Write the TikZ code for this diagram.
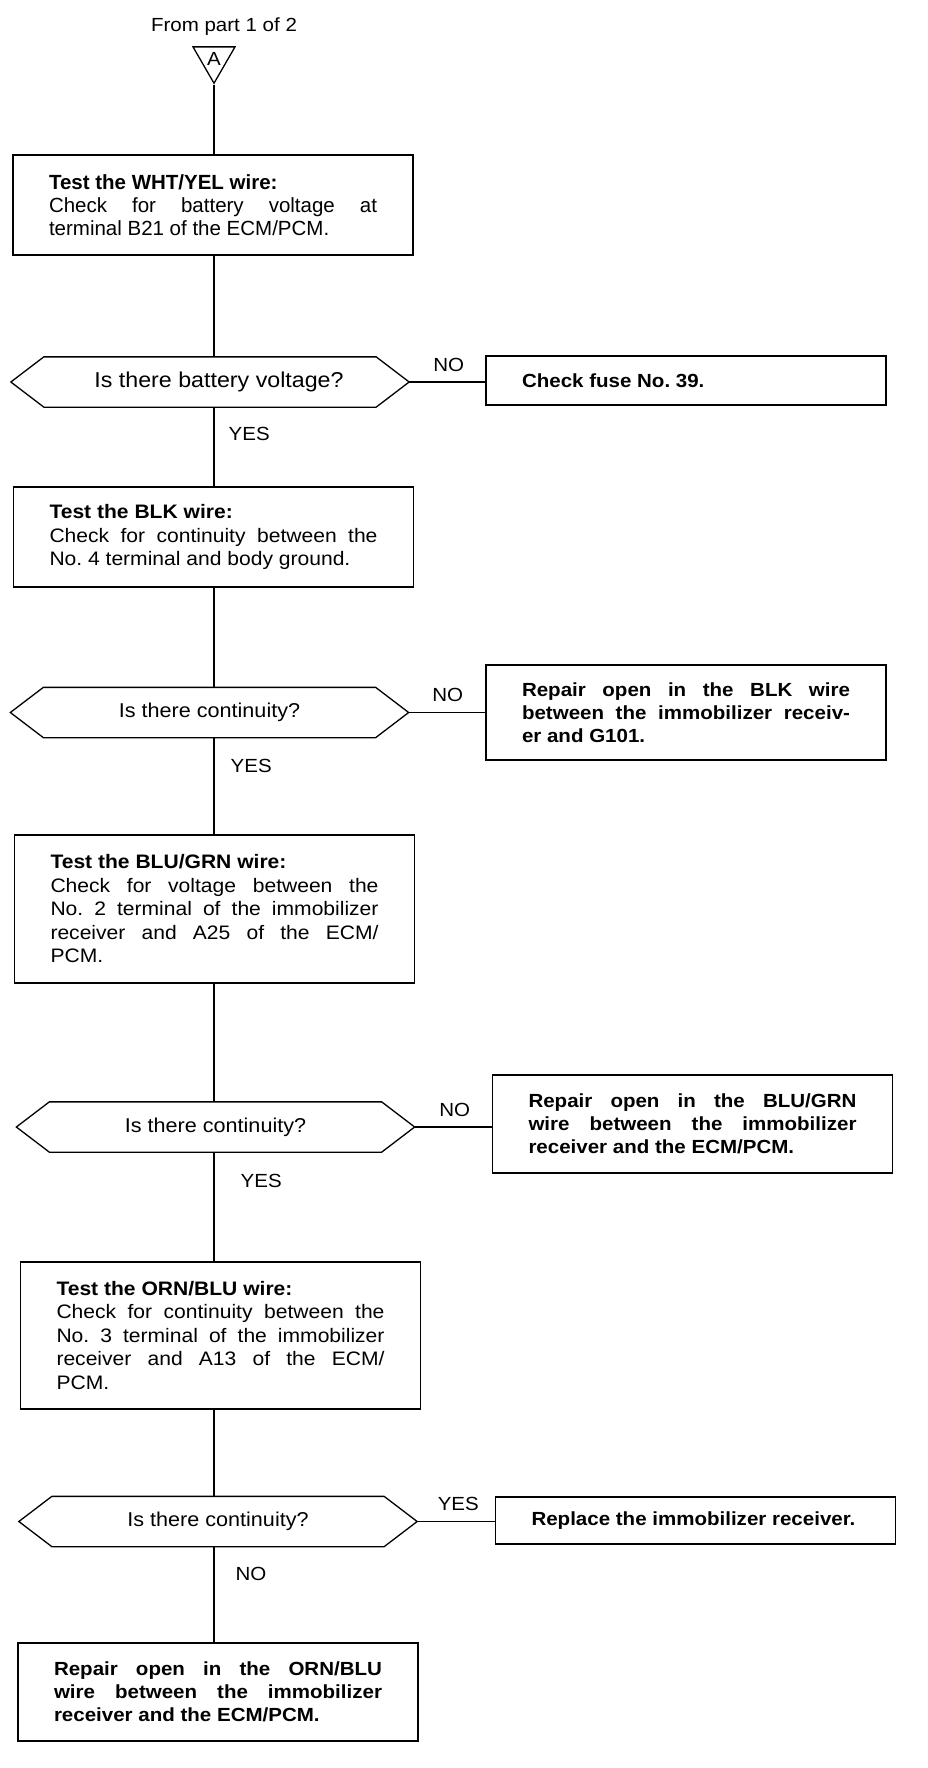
\documentclass[tikz,border=0pt]{standalone}
\usepackage{fontspec}
\setmainfont{Liberation Sans}
\newfontfamily\widefont[FakeStretch=1.08]{Liberation Sans}
\frenchspacing
\usetikzlibrary{shapes.geometric}

\tikzset{
  stepbox/.style={draw, rectangle, line width=1.3pt, text width=328pt, inner xsep=36pt, inner ysep=4pt,
    minimum width=400pt, align=justify, font=\widefont\fontsize{19.5}{23.5}\selectfont,
    execute at begin node={\tolerance=10000\hbadness=10000\parindent=0pt}},
  firstbox/.style={stepbox, font=\fontsize{20.5}{23}\selectfont},
  fixbox/.style={stepbox, font=\widefont\bfseries\fontsize{19}{23}\selectfont},
  askbox/.style={rectangle, minimum width=397pt, minimum height=49pt, inner sep=0pt, font=\widefont\fontsize{20}{22}\selectfont},
  answer/.style={inner sep=0pt, font=\widefont\fontsize{19}{21}\selectfont},
}

\begin{document}
\begin{tikzpicture}[x=1pt, y=-1pt, line width=1.3pt]
	\useasboundingbox (0,0) rectangle (928,1768);
	\coordinate (trunk) at (214,0);
	\node[answer] (from) at (224,27) {From part 1 of 2};
	\node[regular polygon, regular polygon sides=3, shape border rotate=180, draw, minimum size=48.5pt, inner sep=0pt, font=\widefont\fontsize{19}{22}\selectfont] (conA) at (214,59) {A};
	% left column
	\node[firstbox, minimum height=100pt] (b1) at (213,205) {\textbf{Test the WHT/YEL wire:}\\ Check for battery voltage at\linebreak terminal B21 of the ECM/PCM.};
	\node[askbox, font=\widefont\fontsize{21.5}{22}\selectfont] (q1) at (210,382) {\hspace*{18pt}Is there battery voltage?};
	\node[stepbox, minimum height=100pt] (b2) at (213.5,537) {\textbf{Test the BLK wire:}\\ Check for continuity between the\linebreak No. 4 terminal and body ground.};
	\node[askbox] (q2) at (209.5,712.5) {Is there continuity?};
	\node[stepbox, minimum height=148pt] (b3) at (214.5,909) {\textbf{Test the BLU/GRN wire:}\\ Check for voltage between the\linebreak No. 2 terminal of the immobilizer\linebreak receiver and A25 of the ECM/\linebreak PCM.};
	\node[askbox] (q3) at (215.5,1127) {Is there continuity?};
	\node[stepbox, minimum height=147pt] (b4) at (220.5,1335.5) {\textbf{Test the ORN/BLU wire:}\\ Check for continuity between the\linebreak No. 3 terminal of the immobilizer\linebreak receiver and A13 of the ECM/\linebreak PCM.};
	\node[askbox] (q4) at (218,1521.5) {Is there continuity?};
	\node[fixbox, minimum height=98pt] (f5) at (218,1692) {Repair open in the ORN/BLU\linebreak wire between the immobilizer\linebreak receiver and the ECM/PCM.};
	% right column
	\node[fixbox, minimum height=49pt] (f1) at (686,380.5) {Check fuse No. 39.};
	\node[fixbox, minimum height=95pt] (f2) at (686,712.5) {Repair open in the BLK wire\linebreak between the immobilizer receiv-\linebreak er and G101.};
	\node[fixbox, minimum height=98pt] (f3) at (692.5,1124) {Repair open in the BLU/GRN\linebreak wire between the immobilizer\linebreak receiver and the ECM/PCM.};
	\node[fixbox, minimum height=47pt] (f4) at (695.5,1520.5) {Replace the immobilizer receiver.};
	% hexagon outlines
	\foreach \q in {q1,q2,q3,q4} {\draw (\q.west) -- ([xshift=33pt]\q.north west) -- ([xshift=-33pt]\q.north east) -- (\q.east) -- ([xshift=-33pt]\q.south east) -- ([xshift=33pt]\q.south west) -- cycle;}
	% trunk
	\draw (conA.corner 1) -- (b1.north -| trunk);
	\foreach \p/\q in {b1/q1, b2/q2, b3/q3, b4/q4} {\draw (\p.south -| trunk) -- (\q.north -| trunk);}
	\draw (q1.south -| trunk) -- node[answer, pos=0.34, right=14pt] {YES} (b2.north -| trunk);
	\draw (q2.south -| trunk) -- node[answer, pos=0.29, right=16pt] {YES} (b3.north -| trunk);
	\draw (q3.south -| trunk) -- node[answer, pos=0.26, right=26pt] {YES} (b4.north -| trunk);
	\draw (q4.south -| trunk) -- node[answer, pos=0.29, right=21pt] {NO} (f5.north -| trunk);
	% branches
	\draw (q1.east) -- node[answer, pos=0.52, above=10pt] {NO} (q1.east -| f1.west);
	\draw (q2.east) -- node[answer, pos=0.51, above=10pt] {NO} (q2.east -| f2.west);
	\draw (q3.east) -- node[answer, pos=0.52, above=10pt] {NO} (q3.east -| f3.west);
	\draw (q4.east) -- node[answer, pos=0.53, above=10pt] {YES} (q4.east -| f4.west);
\end{tikzpicture}
\end{document}
